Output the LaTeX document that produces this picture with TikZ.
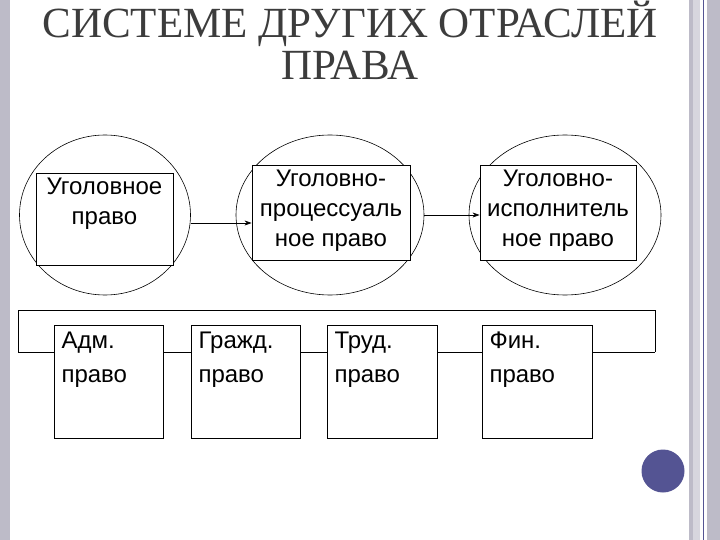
\documentclass[tikz,border=0pt]{standalone}
\usepackage{fontspec}
\setmainfont{Liberation Serif}
\newfontfamily\arialf{Liberation Sans}
\usetikzlibrary{arrows.meta,shapes.geometric}
\definecolor{bar}{HTML}{BDBBC8}
\definecolor{dotc}{HTML}{545493}
\definecolor{titlec}{HTML}{3C3C3C}
\begin{document}
\begin{tikzpicture}[x=1pt,y=-1pt,
  ell/.style={draw,ellipse,line width=0.6pt,inner sep=0pt,minimum height=160pt},
  tbox/.style={draw,line width=0.9pt,fill=white,inner sep=0pt},
  ltxt/.style={font=\arialf\fontsize{24}{30}\selectfont,align=center},
  btxt/.style={font=\arialf\fontsize{24}{34}\selectfont,align=left,anchor=north west},
  arr/.style={-{Stealth[length=7pt,width=5pt]},line width=0.6pt},
  ln/.style={line width=0.9pt}]
\useasboundingbox (0,0) rectangle (720,540);
\fill[white] (0,0) rectangle (720,540);
% side bars
\fill[bar] (0,0) rectangle (10,540);
\fill[bar] (689,0) rectangle (693,540);
\fill[bar!60] (693,0) rectangle (700,540);
\draw[dotc,line width=1pt] (703,0) -- (703,540);
\fill[bar] (707,0) rectangle (720,540);
\fill[dotc] (663,471) circle (21.5);
% title
\node[font=\fontsize{43}{46}\selectfont,text=titlec,anchor=base] (t1) at (350,38) {СИСТЕМЕ ДРУГИХ ОТРАСЛЕЙ};
\node[font=\fontsize{43}{46}\selectfont,text=titlec,anchor=base] (t2) at (350,80) {ПРАВА};
% ellipses
\node[ell,minimum width=171pt] (e1) at (105,215) {};
\node[ell,minimum width=188pt] (e2) at (330,215) {};
\node[ell,minimum width=192pt] (e3) at (565,215) {};
% inner boxes
\node[tbox,minimum width=137pt,minimum height=92pt] (r1) at (104.5,219) {};
\node[ltxt] at (104.5,204) {Уголовное\\право};
\node[tbox,minimum width=158pt,minimum height=95pt] (r2) at (331,212.5) {};
\node[ltxt] at (331,211) {Уголовно-\\процессуаль\\ное право};
\node[tbox,minimum width=156pt,minimum height=95pt] (r3) at (558,212.5) {};
\node[ltxt] at (558,211) {Уголовно-\\исполнитель\\ное право};
\draw[arr] (e1.east |- 0,223) -- (r2.west |- 0,223);
\draw[arr] (e2.east) -- (r3.west |- e2.east);
% bottom frame
\coordinate (fl) at (18,352);
\coordinate (fr) at (655,352);
\draw[ln] (fl) -- (18,310) -- (655,310) -- (fr);
\node[tbox,minimum width=109pt,minimum height=113pt] (b1) at (108.5,381.5) {};
\node[tbox,minimum width=109pt,minimum height=113pt] (b2) at (245.5,381.5) {};
\node[tbox,minimum width=110pt,minimum height=113pt] (b3) at (382,381.5) {};
\node[tbox,minimum width=110pt,minimum height=113pt] (b4) at (537,381.5) {};
\draw[ln] (fl) -- (b1.west |- fl);
\draw[ln] (b1.east |- fl) -- (b2.west |- fl);
\draw[ln] (b2.east |- fl) -- (b3.west |- fl);
\draw[ln] (b3.east |- fl) -- (b4.west |- fl);
\draw[ln] (b4.east |- fl) -- (fr);
\node[btxt] at (58,328) {Адм.\\право};
\node[btxt] at (195,328) {Гражд.\\право};
\node[btxt] at (331,328) {Труд.\\право};
\node[btxt] at (486,328) {Фин.\\право};
\end{tikzpicture}
\end{document}
